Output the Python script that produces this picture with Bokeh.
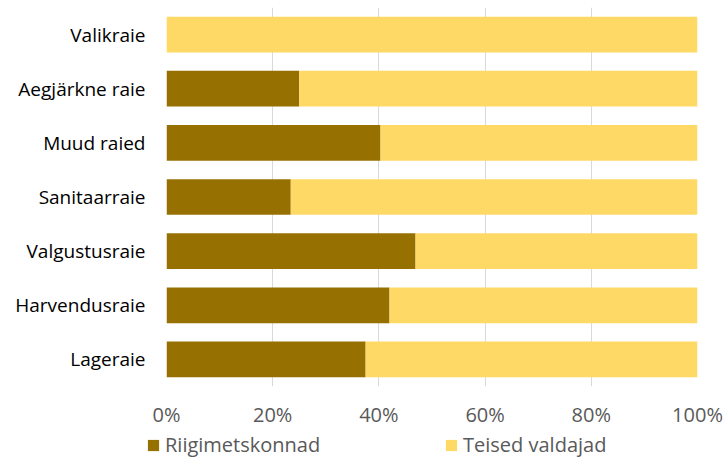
from bokeh.plotting import figure
from bokeh.layouts import column
from bokeh.models import FactorRange, Range1d, Legend, LegendItem, FixedTicker
from bokeh.embed import file_html
from bokeh.resources import INLINE

categories = ["Valikraie", "Aegjärkne raie", "Muud raied", "Sanitaarraie",
              "Valgustusraie", "Harvendusraie", "Lageraie"]
riigimetskonnad = [0.0, 25.0, 40.3, 23.4, 46.9, 42.0, 37.5]
teised = [100 - v for v in riigimetskonnad]
series_names = ["Riigimetskonnad", "Teised valdajad"]
colors = ["#967000", "#FFD966"]
x_ticks = [0, 20, 40, 60, 80, 100]

FONT = "Open Sans"

data = {"cat": categories, "r": riigimetskonnad, "t": teised}

p = figure(width=728, height=430, output_backend="svg", toolbar_location=None,
           y_range=FactorRange(*list(reversed(categories)), range_padding=0),
           x_range=Range1d(0, 100))
p.min_border_left = 166
p.min_border_right = 31
p.min_border_top = 7
p.min_border_bottom = 41
p.outline_line_color = None
p.frame_align = False

rs = p.hbar_stack(["r", "t"], y="cat", height=0.66, color=colors, source=data,
                  line_color=None)

p.xaxis.ticker = FixedTicker(ticks=x_ticks)
p.xaxis.major_label_overrides = {v: f"{v}%" for v in x_ticks}
p.xaxis.axis_line_color = None
p.xaxis.major_tick_line_color = None
p.xaxis.minor_tick_line_color = None
p.xaxis.major_label_text_font = FONT
p.xaxis.major_label_text_font_size = "20px"
p.xaxis.major_label_text_color = "#595959"
p.xaxis.major_label_standoff = 8

p.yaxis.axis_line_color = None
p.yaxis.major_tick_line_color = None
p.yaxis.minor_tick_line_color = None
p.yaxis.major_label_text_font = FONT
p.yaxis.major_label_text_font_size = "19px"
p.yaxis.major_label_text_color = "#000000"
p.yaxis.major_label_standoff = 15

p.xgrid.grid_line_color = "#D9D9D9"
p.xgrid.grid_line_width = 1
p.ygrid.grid_line_color = None

# legend strip below the chart
q = figure(width=728, height=29, output_backend="svg", toolbar_location=None,
           x_range=Range1d(0, 1), y_range=Range1d(0, 1),
           x_axis_location=None, y_axis_location=None)
q.min_border_left = 0
q.min_border_right = 0
q.min_border_top = 0
q.min_border_bottom = 0
q.outline_line_color = None
q.frame_align = False
q.xgrid.grid_line_color = None
q.ygrid.grid_line_color = None
dummies = [q.hbar(y=[10], right=[10], left=[9], height=0.5, color=c, line_color=None)
           for c in colors]

legend = Legend(items=[LegendItem(label=series_names[i], renderers=[dummies[i]])
                       for i in range(2)],
                orientation="horizontal", location=(146, 1))
legend.label_text_font = FONT
legend.label_text_font_size = "20px"
legend.label_text_color = "#595959"
legend.glyph_width = 14
legend.glyph_height = 14
legend.label_standoff = 5
legend.label_width = 260
legend.spacing = 19
legend.padding = 0
legend.margin = 0
legend.border_line_color = None
legend.background_fill_alpha = 0
q.add_layout(legend, "center")

layout = column(p, q, spacing=0)
open("out.html", "w").write(file_html(layout, INLINE))
